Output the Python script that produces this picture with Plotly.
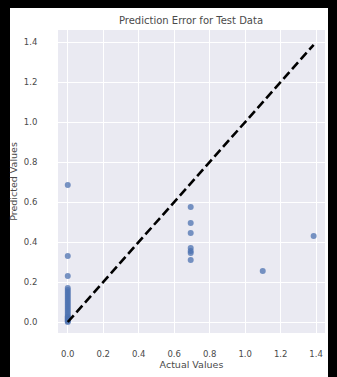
import plotly.graph_objects as go

# Data
actual_values = [0.0] * 24 + [0.693] * 7 + [1.099, 1.386]
predicted_values = [
    0.0, 0.005, 0.01, 0.015, 0.02, 0.025, 0.03, 0.04, 0.05, 0.06, 0.07, 0.08,
    0.09, 0.10, 0.11, 0.12, 0.13, 0.14, 0.15, 0.16, 0.17, 0.23, 0.33, 0.685,
    0.575, 0.495, 0.445, 0.37, 0.355, 0.345, 0.31,
    0.255, 0.43,
]
line_ends = [0.0, 1.386]
tick_vals = [0.0, 0.2, 0.4, 0.6, 0.8, 1.0, 1.2, 1.4]
tick_text = ["0.0", "0.2", "0.4", "0.6", "0.8", "1.0", "1.2", "1.4"]

W, H = 337, 377
ML, MR, MT, MB = 58, 12, 30, 44
pw, ph = W - ML - MR, H - MT - MB


def px_x(p):
    return (p - ML) / pw


def px_y(p):
    return (H - MB - p) / ph


text_color = "#4a4a4a"
font_family = "DejaVu Sans"

fig = go.Figure()
fig.add_trace(go.Scatter(
    x=actual_values, y=predicted_values, mode="markers",
    marker=dict(color="#4c72b0", size=6, opacity=0.75, line=dict(width=0)),
    showlegend=False,
))
fig.add_trace(go.Scatter(
    x=line_ends, y=line_ends, mode="lines",
    line=dict(color="black", width=2.6, dash="9px,4px"),
    showlegend=False,
))

fig.update_layout(
    width=W, height=H,
    margin=dict(l=ML, r=MR, t=MT, b=MB, pad=0, autoexpand=False),
    paper_bgcolor="black",
    plot_bgcolor="#eaeaf2",
    font=dict(family=font_family, color=text_color, size=9),
    title=dict(text="Prediction Error for Test Data", x=px_x(191), xref="paper",
               xanchor="center", y=1 - 20 / H, yanchor="middle",
               font=dict(size=10, color=text_color)),
    shapes=[
        dict(type="rect", xref="paper", yref="paper", layer="below",
             x0=px_x(10), x1=px_x(328), y0=px_y(377), y1=px_y(8),
             fillcolor="white", line=dict(width=0)),
        dict(type="rect", xref="x domain", yref="y domain", layer="below",
             x0=0, x1=1, y0=0, y1=1, fillcolor="#eaeaf2", line=dict(width=0)),
    ],
)
fig.update_xaxes(
    range=[-0.055, 1.45], tickvals=tick_vals, ticktext=tick_text,
    showgrid=True, gridcolor="white", gridwidth=1, zeroline=False,
    showline=False, ticks="outside", ticklen=13, tickcolor="rgba(0,0,0,0)",
    tickfont=dict(size=8.5, color=text_color), automargin=False,
    title=dict(text="Actual Values", font=dict(size=9.5, color=text_color), standoff=2),
)
fig.update_yaxes(
    range=[-0.055, 1.46], tickvals=tick_vals, ticktext=tick_text,
    showgrid=True, gridcolor="white", gridwidth=1, zeroline=False,
    showline=False, ticks="outside", ticklen=18, tickcolor="rgba(0,0,0,0)",
    tickfont=dict(size=8.5, color=text_color), automargin=False,
    title=dict(text="Predicted Values", font=dict(size=9.5, color=text_color), standoff=4),
)

fig.write_html(
    "out.html",
    config={"displayModeBar": False},
    post_script="document.body.style.margin='0';document.body.style.background='black';",
)
